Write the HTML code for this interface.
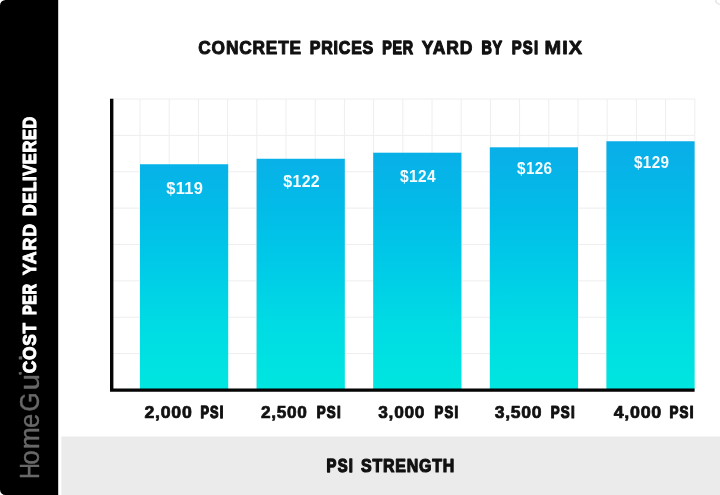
<!DOCTYPE html>
<html lang="en"><head><meta charset="utf-8"><title>Concrete Prices Per Yard By PSI Mix</title>
<style>
html,body{margin:0;padding:0;background:#fff;}
body{width:720px;height:495px;overflow:hidden;position:relative;font-family:"Liberation Sans",sans-serif;}
svg{display:block;position:absolute;left:-10px;top:-10px;filter:blur(0.4px);}
text{font-family:"Liberation Sans",sans-serif;font-weight:bold;stroke-linejoin:round;}
.k{fill:#111111;stroke:#111111;}
.w{fill:#ffffff;stroke:#ffffff;}
.n{fill:#f4fbff;stroke:none;}
</style></head><body>
<svg width="740" height="515" viewBox="-10 -10 740 515">
<defs>
<linearGradient id="bar" x1="0" y1="141" x2="0" y2="388" gradientUnits="userSpaceOnUse">
<stop offset="0" stop-color="#0aade8"/><stop offset="0.28" stop-color="#02bce8"/><stop offset="0.48" stop-color="#00c9e8"/><stop offset="0.72" stop-color="#00dae4"/><stop offset="1" stop-color="#00e6e0"/>
</linearGradient>
</defs>
<rect x="-10" y="-10" width="740" height="515" fill="#ffffff"/>
<rect x="61.3" y="436.5" width="670" height="70" fill="#ebebeb"/>
<rect x="-10" y="-10" width="68.2" height="515" fill="#000000"/>
<path d="M-10 -10H5.5V0A5.5 5.5 0 0 0 0 5.5H-10ZM-10 505H5.5V495A5.5 5.5 0 0 1 0 489.5H-10Z" fill="#ffffff"/>
<circle cx="720.5" cy="-0.5" r="5" fill="none" stroke="#e6e6e6" stroke-width="1.6"/>
<path d="M140.00 99.00V390M169.20 99.00V390M198.40 99.00V390M227.60 99.00V390M256.80 99.00V390M286.00 99.00V390M315.20 99.00V390M344.40 99.00V390M373.60 99.00V390M402.80 99.00V390M432.00 99.00V390M461.20 99.00V390M490.40 99.00V390M519.60 99.00V390M548.80 99.00V390M578.00 99.00V390M607.20 99.00V390M636.40 99.00V390M665.60 99.00V390M694.80 99.00V390M110.80 99.00H694.80M110.80 135.38H694.80M110.80 171.75H694.80M110.80 208.12H694.80M110.80 244.50H694.80M110.80 280.88H694.80M110.80 317.25H694.80M110.80 353.62H694.80" stroke="#eeeeee" stroke-width="1" fill="none"/>
<rect x="140.00" y="164.25" width="88.2" height="225.25" fill="url(#bar)"/>
<rect x="256.60" y="158.75" width="88.2" height="230.75" fill="url(#bar)"/>
<rect x="373.20" y="152.7" width="88.2" height="236.80" fill="url(#bar)"/>
<rect x="489.80" y="147.3" width="88.2" height="242.20" fill="url(#bar)"/>
<rect x="606.40" y="141.25" width="88.2" height="248.25" fill="url(#bar)"/>
<path d="M111.7 98.7V390.1H694.6" stroke="#050505" stroke-width="3.4" fill="none"/>
<text class="n"><tspan x="166.18" y="194.0" font-size="15.7" stroke-width="0" letter-spacing="0.3" textLength="37.0" lengthAdjust="spacingAndGlyphs">$119</tspan></text>
<text class="n"><tspan x="283.22" y="187.0" font-size="15.7" stroke-width="0" letter-spacing="0.3" textLength="36.84" lengthAdjust="spacingAndGlyphs">$122</tspan></text>
<text class="n"><tspan x="400.1" y="182.0" font-size="15.7" stroke-width="0" letter-spacing="0.3" textLength="35.79" lengthAdjust="spacingAndGlyphs">$124</tspan></text>
<text class="n"><tspan x="517.12" y="174.0" font-size="15.7" stroke-width="0" letter-spacing="0.3" textLength="35.14" lengthAdjust="spacingAndGlyphs">$126</tspan></text>
<text class="n"><tspan x="634.1" y="168.0" font-size="15.7" stroke-width="0" letter-spacing="0.3" textLength="35.12" lengthAdjust="spacingAndGlyphs">$129</tspan></text>
<text class="k"><tspan x="144.55" y="418.4" font-size="17.15" stroke-width="0.7" letter-spacing="0.7" textLength="47.95" lengthAdjust="spacingAndGlyphs">2,000</tspan> <tspan x="200.42" y="418.14" font-size="16.41" stroke-width="1.28" letter-spacing="1.5" textLength="24.08" lengthAdjust="spacingAndGlyphs">PSI</tspan></text>
<text class="k"><tspan x="261.0" y="418.4" font-size="17.15" stroke-width="0.7" letter-spacing="0.7" textLength="46.62" lengthAdjust="spacingAndGlyphs">2,500</tspan> <tspan x="316.77" y="418.16" font-size="16.45" stroke-width="1.2" letter-spacing="1.5" textLength="25.14" lengthAdjust="spacingAndGlyphs">PSI</tspan></text>
<text class="k"><tspan x="378.28" y="418.4" font-size="17.15" stroke-width="0.7" letter-spacing="0.7" textLength="46.9" lengthAdjust="spacingAndGlyphs">3,000</tspan> <tspan x="434.52" y="418.12" font-size="16.34" stroke-width="1.22" letter-spacing="1.5" textLength="24.73" lengthAdjust="spacingAndGlyphs">PSI</tspan></text>
<text class="k"><tspan x="494.65" y="418.4" font-size="17.15" stroke-width="0.7" letter-spacing="0.7" textLength="47.58" lengthAdjust="spacingAndGlyphs">3,500</tspan> <tspan x="550.77" y="418.16" font-size="16.45" stroke-width="1.2" letter-spacing="1.5" textLength="25.14" lengthAdjust="spacingAndGlyphs">PSI</tspan></text>
<text class="k"><tspan x="613.73" y="418.4" font-size="17.15" stroke-width="0.7" letter-spacing="0.7" textLength="48.29" lengthAdjust="spacingAndGlyphs">4,000</tspan> <tspan x="669.4" y="418.13" font-size="16.38" stroke-width="1.18" letter-spacing="1.5" textLength="25.24" lengthAdjust="spacingAndGlyphs">PSI</tspan></text>
<text class="k"><tspan x="198.31" y="53.91" font-size="18.62" stroke-width="1.01" letter-spacing="0.9" textLength="103.64" lengthAdjust="spacingAndGlyphs">CONCRETE</tspan> <tspan x="309.8" y="53.82" font-size="18.37" stroke-width="1.18" letter-spacing="0.9" textLength="64.24" lengthAdjust="spacingAndGlyphs">PRICES</tspan> <tspan x="382.25" y="53.7" font-size="18.02" stroke-width="1.4" letter-spacing="0.9" textLength="31.51" lengthAdjust="spacingAndGlyphs">PER</tspan> <tspan x="421.86" y="53.92" font-size="18.68" stroke-width="0.98" letter-spacing="0.9" textLength="51.42" lengthAdjust="spacingAndGlyphs">YARD</tspan> <tspan x="481.46" y="53.73" font-size="18.11" stroke-width="1.39" letter-spacing="0.9" textLength="21.44" lengthAdjust="spacingAndGlyphs">BY</tspan> <tspan x="511.7" y="53.73" font-size="18.12" stroke-width="1.32" letter-spacing="1.5" textLength="27.62" lengthAdjust="spacingAndGlyphs">PSI</tspan> <tspan x="544.59" y="54.0" font-size="18.9" stroke-width="0.8" letter-spacing="0.9" textLength="38.33" lengthAdjust="spacingAndGlyphs">MIX</tspan></text>
<text class="k"><tspan x="326.6" y="471.97" font-size="18.21" stroke-width="1.34" letter-spacing="1.5" textLength="27.54" lengthAdjust="spacingAndGlyphs">PSI</tspan> <tspan x="361.1" y="472.02" font-size="18.36" stroke-width="1.19" letter-spacing="0.9" textLength="93.87" lengthAdjust="spacingAndGlyphs">STRENGTH</tspan></text>
<clipPath id="hg"><path d="M0 375.8H58V495H0ZM0 300H22.2V375.8H0Z"/></clipPath>
<g clip-path="url(#hg)"><text transform="translate(39.3 478.68) rotate(-90)" font-size="27" fill="#686868" stroke="#686868" stroke-width="0.4" style="font-weight:normal"><tspan x="0.00" textLength="15.55" lengthAdjust="spacingAndGlyphs">H</tspan><tspan x="13.96" textLength="14.53" lengthAdjust="spacingAndGlyphs">o</tspan><tspan x="29.68" textLength="21.71" lengthAdjust="spacingAndGlyphs">m</tspan><tspan x="50.68" textLength="14.27" lengthAdjust="spacingAndGlyphs">e</tspan><tspan x="67.16" textLength="19.04" lengthAdjust="spacingAndGlyphs">G</tspan><tspan x="88.12" textLength="16.81" lengthAdjust="spacingAndGlyphs">u</tspan><tspan x="102.98" textLength="5.06" lengthAdjust="spacingAndGlyphs">i</tspan><tspan x="108.68" textLength="15.03" lengthAdjust="spacingAndGlyphs">d</tspan><tspan x="124.72" textLength="13.72" lengthAdjust="spacingAndGlyphs">e</tspan></text></g>
<text class="w" transform="translate(36.22 373.28) rotate(-90)"><tspan x="0.00" y="0.00" font-size="18.97" stroke-width="0.96" letter-spacing="0.8" textLength="51.03" lengthAdjust="spacingAndGlyphs">COST</tspan> <tspan x="58.23" y="-0.18" font-size="18.43" stroke-width="1.33" letter-spacing="0.8" textLength="31.62" lengthAdjust="spacingAndGlyphs">PER</tspan> <tspan x="98.14" y="0.04" font-size="19.06" stroke-width="0.89" letter-spacing="0.8" textLength="51.93" lengthAdjust="spacingAndGlyphs">YARD</tspan> <tspan x="157.33" y="-0.05" font-size="18.81" stroke-width="1.09" letter-spacing="0.8" textLength="100.02" lengthAdjust="spacingAndGlyphs">DELIVERED</tspan></text>
</svg>
</body></html>
